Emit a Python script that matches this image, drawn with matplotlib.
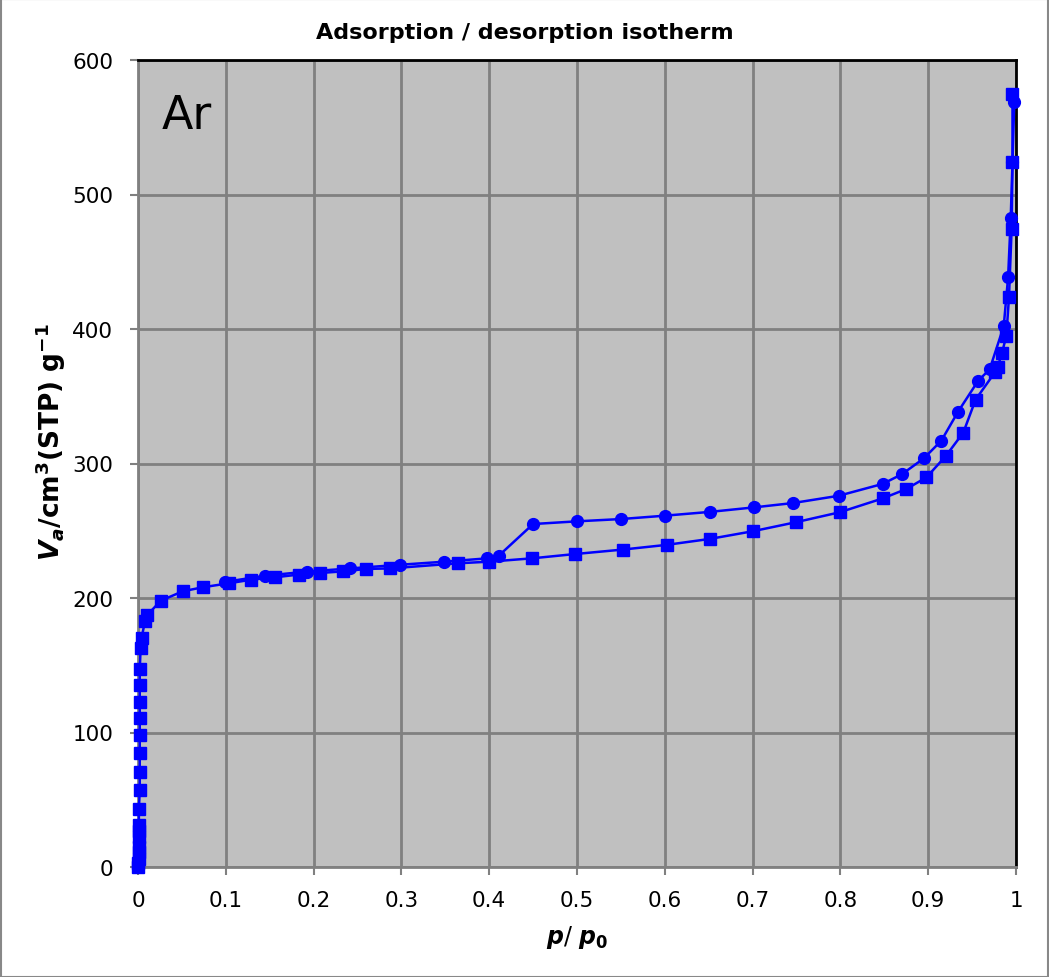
import matplotlib
matplotlib.use("Agg")
import matplotlib.pyplot as plt
from matplotlib.patches import Rectangle

plt.rcParams['font.family'] = ['DejaVu Sans']
plt.rcParams['mathtext.fontset'] = 'custom'
plt.rcParams['mathtext.rm'] = 'DejaVu Sans:bold'
plt.rcParams['mathtext.it'] = 'DejaVu Sans:italic:bold'
plt.rcParams['mathtext.bf'] = 'DejaVu Sans:bold'

# Adsorption branch (squares)
ads_x = [0.000, 0.000, 0.001, 0.001, 0.001, 0.001, 0.001, 0.001, 0.001, 0.002,
         0.002, 0.002, 0.002, 0.002, 0.002, 0.002, 0.002, 0.003, 0.004, 0.008,
         0.010,
         0.026, 0.051, 0.074, 0.104, 0.129, 0.156, 0.183, 0.207, 0.234, 0.260,
         0.287, 0.364, 0.400, 0.449, 0.498, 0.552, 0.602, 0.651, 0.700, 0.749,
         0.799, 0.848, 0.875, 0.898, 0.920, 0.940, 0.954, 0.976, 0.979, 0.984,
         0.989, 0.992, 0.995, 0.996, 0.996]
ads_y = [0, 3, 6, 11, 15, 22, 27, 31, 43, 57,
         71, 85, 98, 111, 123, 135, 147, 163, 170, 183,
         187,
         198, 205, 208, 211, 213.6, 215.4, 217.4, 218.6, 219.8, 221.6,
         222, 225.8, 227, 229.5, 232.7, 236, 239.5, 243.9, 249.6, 256.3,
         263.7, 274, 281, 289.7, 305.5, 323, 347.5, 367.8, 371.5, 382,
         395, 423.5, 474, 524, 574.7]

# Desorption branch (circles)
des_x = [0.998, 0.996, 0.994, 0.991, 0.986, 0.970, 0.957, 0.934, 0.915, 0.895,
         0.870, 0.848, 0.798, 0.746, 0.702, 0.651, 0.600, 0.550, 0.500, 0.450,
         0.411, 0.398, 0.349, 0.298, 0.242, 0.192, 0.145, 0.0995]
des_y = [568.5, 524, 482.5, 438.4, 402, 370, 361.6, 338.5, 317, 303.8,
         292, 284.8, 276, 270.6, 267.4, 264, 261.2, 258.7, 257, 255,
         231.5, 229.5, 227, 224.7, 222, 219.6, 216.6, 212]

x_ticks = [0, 0.1, 0.2, 0.3, 0.4, 0.5, 0.6, 0.7, 0.8, 0.9, 1]
x_tick_labels = ["0", "0.1", "0.2", "0.3", "0.4", "0.5", "0.6", "0.7", "0.8", "0.9", "1"]
y_ticks = [0, 100, 200, 300, 400, 500, 600]

fig = plt.figure(figsize=(10.49, 9.78), dpi=100)
fig.patch.set_facecolor('white')
ax = fig.add_axes([138/1049, 1-868/978, (1016-138)/1049, (868-61)/978])
ax.set_facecolor('#C0C0C0')

ax.plot(ads_x, ads_y, color='#0000FF', lw=1.8, marker='s', ms=8.5,
        mfc='#0000FF', mec='#0000FF', zorder=3, clip_on=False)
ax.plot(des_x, des_y, color='#0000FF', lw=1.8, marker='o', ms=8.5,
        mfc='#0000FF', mec='#0000FF', zorder=3, clip_on=False)

ax.set_xlim(0, 1)
ax.set_ylim(0, 600)
ax.set_xticks(x_ticks)
ax.set_xticklabels(x_tick_labels)
ax.set_yticks(y_ticks)
ax.grid(True, color='#808080', lw=2)
ax.set_axisbelow(True)
ax.tick_params(axis='both', direction='out', length=5.8, width=1.5, color='#808080',
               labelsize=15.5)
ax.tick_params(axis='x', pad=11)
ax.tick_params(axis='y', pad=12)
for s in ['left', 'bottom']:
    ax.spines[s].set_color('#808080')
    ax.spines[s].set_linewidth(2)
for s in ['top', 'right']:
    ax.spines[s].set_color('black')
    ax.spines[s].set_linewidth(2)

fig.text(0.5, 1 - 33/978, 'Adsorption / desorption isotherm', fontsize=16,
         fontweight='bold', ha='center', va='center')
ax.set_xlabel(r'$\mathit{p}$/ $\mathit{p}_{0}$', fontsize=17, labelpad=9)
ax.set_ylabel(r'$\mathit{V_a}$/cm$^{3}$(STP) g$^{-1}$', fontsize=19, fontweight='bold', labelpad=3)
ax.yaxis.label.set_y(0.528)
ax.text(0.027, 0.959, 'Ar', transform=ax.transAxes, fontsize=33, va='top', ha='left')

fig.patches.append(Rectangle((0.0005, 0.0005), 0.999, 0.999, transform=fig.transFigure,
                             fill=False, edgecolor='#888888', lw=1.5))

fig.savefig('out.png', dpi=100)
